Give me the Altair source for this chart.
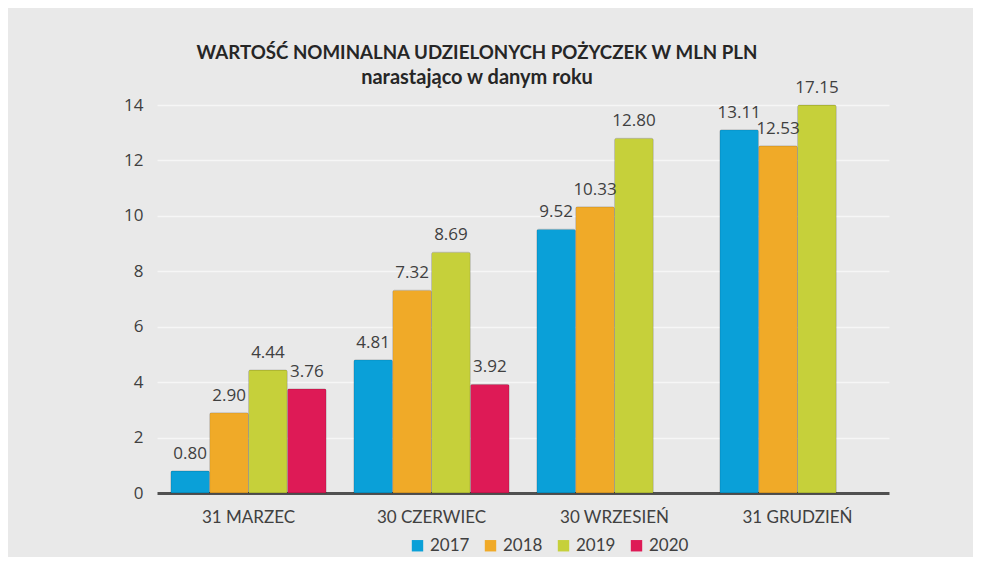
import altair as alt
import pandas as pd

categories = ["31 MARZEC", "30 CZERWIEC", "30 WRZESIEŃ", "31 GRUDZIEŃ"]
years = ["2017", "2018", "2019", "2020"]
v2017 = [0.80, 4.81, 9.52, 13.11]
v2018 = [2.90, 7.32, 10.33, 12.53]
v2019 = [4.44, 8.69, 12.80, 17.15]
v2020 = [3.76, 3.92, None, None]
colors = ["#0aa0d8", "#f0aa28", "#c6d03a", "#de1a56"]

rows = []
for yr, vals in zip(years, [v2017, v2018, v2019, v2020]):
    for cat, v in zip(categories, vals):
        if v is not None:
            rows.append({"okres": cat, "rok": yr, "wartosc": v})
df = pd.DataFrame(rows)

x_enc = alt.X("okres:N", sort=categories, title=None,
              scale=alt.Scale(paddingInner=0.15, paddingOuter=0.075),
              axis=alt.Axis(labelAngle=0, labelFont="Lato", labelFontSize=17,
                            labelColor="#404040", labelPadding=16, ticks=False,
                            domainColor="#505050", domainWidth=3, grid=False))
xoff = alt.XOffset("rok:N", sort=years, scale=alt.Scale(domain=years, paddingInner=0.0))
yscale = alt.Scale(domain=[0, 14], clamp=True)

bars = alt.Chart(df).mark_bar(cornerRadiusTopLeft=2, cornerRadiusTopRight=2,
                              stroke="#00000022", strokeWidth=1).encode(
    x=x_enc,
    xOffset=xoff,
    y=alt.Y("wartosc:Q", scale=yscale, title=None,
            axis=alt.Axis(values=[0, 2, 4, 6, 8, 10, 12, 14], labelFont="Open Sans",
                          labelFontSize=17, labelColor="#404040", labelPadding=14,
                          ticks=False, domain=False, gridColor="#f6f6f6", gridWidth=1.5)),
    color=alt.Color("rok:N", sort=years, scale=alt.Scale(domain=years, range=colors),
                    legend=alt.Legend(title=None, orient="none", direction="horizontal",
                                      legendX=252, legendY=432, symbolType="square",
                                      symbolSize=130, symbolStrokeWidth=0,
                                      labelFont="Lato", labelFontSize=17,
                                      labelColor="#404040", columnPadding=12,
                                      labelOffset=4)),
)

labels = alt.Chart(df).mark_text(dy=-17, font="Open Sans", fontSize=17, color="#404040").encode(
    x=alt.X("okres:N", sort=categories),
    xOffset=alt.XOffset("rok:N", sort=years),
    y=alt.Y("wartosc:Q", scale=yscale),
    text=alt.Text("wartosc:Q", format=".2f"),
)

chart = alt.layer(bars, labels).properties(
    width=732,
    height=388,
    title=alt.TitleParams(
        text="WARTOŚĆ NOMINALNA UDZIELONYCH POŻYCZEK W MLN PLN",
        subtitle="narastająco w danym roku",
        font="Lato", fontSize=18.7, fontWeight="bold", color="#262626",
        subtitleFont="Lato", subtitleFontSize=20, subtitleFontWeight="bold",
        subtitleColor="#262626", subtitlePadding=5,
        anchor="middle", frame="group", dx=-46, offset=-9,
    ),
    autosize=alt.AutoSizeParams(type="none"),
    padding={"left": 149, "top": 97, "right": 84, "bottom": 64},
).configure(background="#e9e9e9").configure_view(stroke=None)

chart.save("out.html", embed_options={"renderer": "svg", "actions": False})
